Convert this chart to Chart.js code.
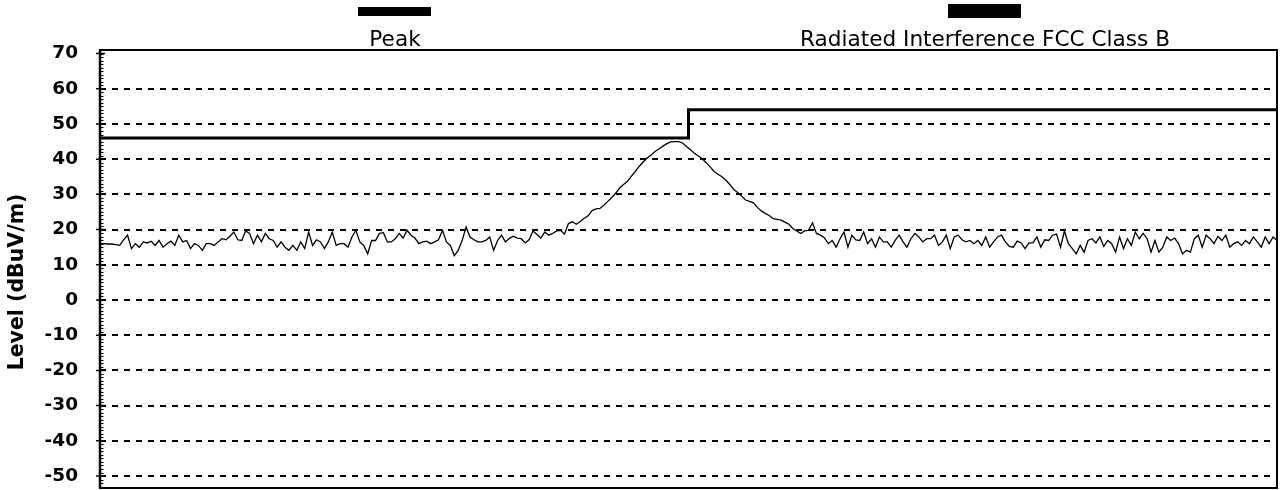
<!DOCTYPE html>
<html><head><meta charset="utf-8">
<script src="https://cdn.jsdelivr.net/npm/chart.js@4.4.1/dist/chart.umd.min.js"></script>
<style>html,body{margin:0;padding:0;background:#fff;overflow:hidden;}#wrap{width:1280px;height:490px;}</style>
</head><body><div id="wrap"><canvas id="c" width="1280" height="490" style="display:block;width:1280px;height:490px"></canvas></div>
<script>
// ---- data ----
const legendLabels = ['Peak', 'Radiated Interference FCC Class B'];
const yAxisTitle = 'Level (dBuV/m)';
const yTickValues = [70, 60, 50, 40, 30, 20, 10, 0, -10, -20, -30, -40, -50];
const yRange = [-53.4, 71];
// FCC class B limit: band edges (sweep index units) and level per band
const limitEdges = [0, 149.5, 299];
const limitLevels = [46, 54];
// peak sweep (dBuV/m), uniformly spaced samples
const peakLevels = [
  16.0,16.0,15.9,15.9,15.7,15.5,17.1,18.4,14.6,16.0, 15.0,16.5,16.2,16.7,15.5,16.9,15.0,16.0,16.7,15.5,
  18.4,16.5,16.9,14.6,16.0,15.5,14.1,16.0,16.0,15.5, 16.5,17.4,17.1,18.1,19.3,17.1,16.9,19.6,18.9,16.0,
  18.4,16.5,18.9,17.4,16.9,15.0,16.5,15.0,14.1,15.5, 14.1,16.5,14.6,19.3,15.5,17.1,16.5,14.6,16.5,19.3,
  15.5,16.0,16.0,15.0,17.9,19.8,16.5,15.5,13.1,16.9, 16.9,18.9,19.1,16.5,
  16.5,17.4,18.9,17.6,19.8,18.4,17.6,16.0,16.5,16.7, 16.0,16.5,17.1,19.8,16.5,15.5,12.6,14.1,16.9,20.7,
  17.9,17.1,16.5,16.5,16.9,17.9,14.1,16.9,18.4,16.5, 17.5,18.1,17.6,17.4,16.2,17.1,19.6,18.6,17.6,19.3,
  18.4,18.9,19.6,19.8,18.7,21.7,22.2,21.5,22.3,23.2, 23.9,25.4,
  25.9,26.0,26.9,28.0,29.1,30.3,31.8,32.8,33.7,35.2, 36.5,38.0,39.2,40.3,41.2,42.2,42.9,43.7,44.4,44.9,
  45.0,45.0,44.6,43.6,42.7,41.7,40.9,40.1,39.0,37.8, 36.5,35.7,35.0,34.0,32.8,31.4,30.5,29.5,28.4,28.0,
  27.6,26.3,25.3,24.6,24.0,23.1,22.9,22.7,22.1,21.5,
  20.3,19.6,18.9,19.6,19.8,21.9,18.9,18.4,17.7,16.0, 16.9,15.0,17.4,19.3,15.0,18.4,17.1,16.9,19.3,16.0,
  17.4,15.0,17.9,16.5,16.5,15.0,16.9,18.4,16.5,15.0, 17.4,18.9,17.9,16.5,17.4,17.4,18.4,15.5,16.5,18.4,
  14.6,17.9,18.4,17.1,16.5,16.9,16.0,16.9,15.5,17.9, 15.0,16.5,17.9,18.4,16.5,15.2,
  15.0,16.7,16.2,14.6,16.2,16.2,17.9,15.0,17.1,16.9, 18.4,18.7,15.0,19.6,16.0,14.6,13.1,15.5,13.6,16.9,
  17.4,16.2,17.9,15.2,16.9,16.0,13.6,17.9,14.6,17.4, 15.5,19.3,17.4,18.9,17.4,13.6,16.9,13.6,15.0,17.9,
  16.9,17.6,16.0,13.1,14.1,13.6,17.4,18.4,15.0,18.4, 17.4,16.0,18.1,16.9,18.4,15.0,16.0,16.5,15.5,16.9,
  16.0,17.9,16.5,15.0,17.9,16.0,17.9,16.9
];

// ---- build ----
const peakPoints = peakLevels.map((v, i) => ({x: i, y: v}));
const limitPoints = [];
limitLevels.forEach((lv, i) => {
  limitPoints.push({x: limitEdges[i], y: lv});
  limitPoints.push({x: limitEdges[i + 1], y: lv});
});

const FONT = "'DejaVu Sans', Verdana, sans-serif";

const decor = {
  id: 'decor',
  afterDraw(chart) {
    const ctx = chart.ctx, a = chart.chartArea, ys = chart.scales.y;
    ctx.save();
    ctx.strokeStyle = '#000';
    // minor ticks (1 dB)
    ctx.lineWidth = 1;
    ctx.beginPath();
    for (let v = Math.ceil(yRange[0]); v <= Math.floor(yRange[1]); v++) {
      const y = Math.round(ys.getPixelForValue(v)) + 0.5;
      ctx.moveTo(a.left, y); ctx.lineTo(a.left + 3.5, y);
    }
    ctx.stroke();
    // major ticks
    ctx.lineWidth = 1.5;
    ctx.beginPath();
    yTickValues.forEach(v => {
      const y = ys.getPixelForValue(v);
      ctx.moveTo(a.left - 4, y); ctx.lineTo(a.left + 5, y);
    });
    ctx.stroke();
    // frame
    ctx.lineWidth = 2;
    ctx.strokeRect(a.left, a.top, a.right - a.left, a.bottom - a.top);
    ctx.lineWidth = 2.5;
    ctx.beginPath(); ctx.moveTo(a.left, a.top); ctx.lineTo(a.left, a.bottom); ctx.stroke();
    // y axis title
    ctx.fillStyle = '#000';
    ctx.font = 'bold 20.5px ' + FONT;
    ctx.textAlign = 'center';
    ctx.textBaseline = 'middle';
    ctx.translate(17.5, 282);
    ctx.rotate(-Math.PI / 2);
    ctx.fillText(yAxisTitle, 0, 0);
    ctx.restore();
    // legend: symbol above label
    ctx.save();
    ctx.fillStyle = '#000';
    const items = [
      {cx: 395, bar: [358, 7, 73, 9]},
      {cx: 985, bar: [948, 4, 73, 14]}
    ];
    ctx.font = '21.6px ' + FONT;
    ctx.textAlign = 'center';
    ctx.textBaseline = 'alphabetic';
    items.forEach((it, i) => {
      ctx.fillRect(it.bar[0], it.bar[1], it.bar[2], it.bar[3]);
      ctx.fillText(legendLabels[i], it.cx, 46);
    });
    ctx.restore();
  }
};

new Chart(document.getElementById('c'), {
  type: 'line',
  data: {
    datasets: [
      {label: legendLabels[0], data: peakPoints, borderColor: '#000', borderWidth: 1.3,
       pointRadius: 0, tension: 0, fill: false},
      {label: legendLabels[1], data: limitPoints, borderColor: '#000', borderWidth: 3,
       pointRadius: 0, tension: 0, fill: false}
    ]
  },
  options: {
    responsive: false,
    animation: false,
    devicePixelRatio: 1,
    layout: {padding: {left: 0, right: 3, top: 50, bottom: 2}},
    plugins: {legend: {display: false}, tooltip: {enabled: false}, title: {display: false}},
    scales: {
      x: {type: 'linear', min: 0, max: peakLevels.length - 1, display: false},
      y: {
        type: 'linear', min: yRange[0], max: yRange[1],
        afterBuildTicks: s => { s.ticks = yTickValues.map(v => ({value: v})); },
        afterFit: s => { s.width = 100; s.paddingTop = 0; s.paddingBottom = 0; },
        ticks: {color: '#000', padding: 22, font: {family: FONT, size: 18.5, weight: 'bold'}},
        grid: {drawTicks: false, lineWidth: 2,
               color: c => (c.tick && c.tick.value === 70) ? 'rgba(0,0,0,0)' : '#000'},
        border: {display: false, dash: [6, 6]}
      }
    }
  },
  plugins: [decor]
});
</script>
</body></html>
